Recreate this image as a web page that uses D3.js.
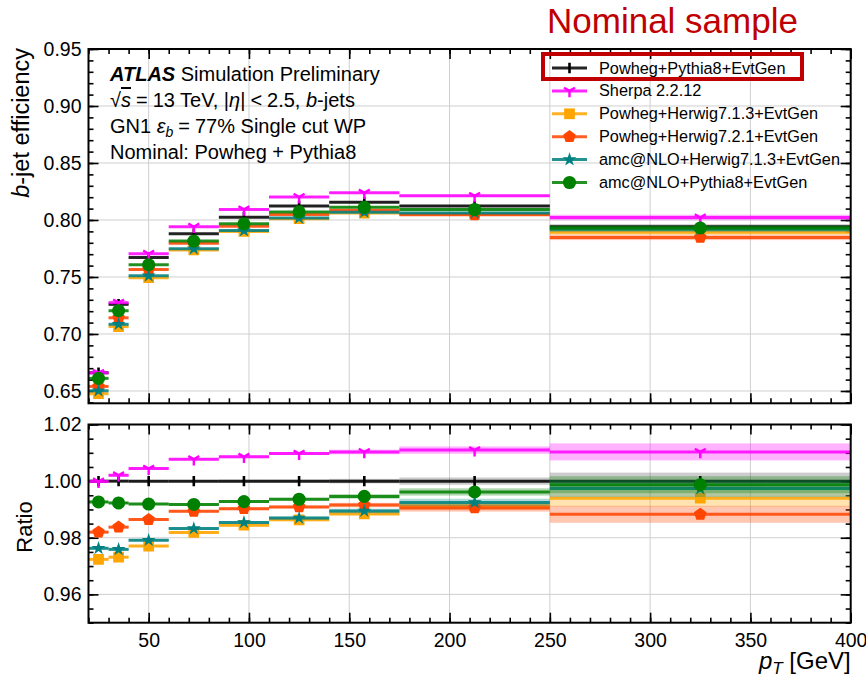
<!DOCTYPE html>
<html>
<head>
<meta charset="utf-8">
<script src="https://cdn.jsdelivr.net/npm/d3@7"></script>
<style>
  html, body { margin: 0; padding: 0; background: #fff; }
  svg { display: block; font-family: "Liberation Sans", Arial, sans-serif; }
</style>
</head>
<body>
<svg id="chart" width="866" height="681"></svg>
<script>
// pT binning (GeV)
const binEdges = [20, 30, 40, 60, 85, 110, 140, 175, 250, 400];

// b-jet efficiency per pT bin for each generator setup
const effPowhegPythia8   = [0.666, 0.726, 0.767, 0.788, 0.8024, 0.8123, 0.8155, 0.8123, 0.794];
const effSherpa          = [0.6659, 0.7275, 0.7704, 0.7941, 0.8093, 0.8202, 0.8239, 0.8212, 0.8022];
const effPowhegHerwig713 = [0.6476, 0.7065, 0.7494, 0.7737, 0.7899, 0.8012, 0.8061, 0.8052, 0.7892];
const effPowhegHerwig721 = [0.654, 0.7142, 0.7566, 0.7796, 0.7946, 0.8049, 0.8086, 0.8046, 0.7847];
const effAmcHerwig713    = [0.6502, 0.7085, 0.751, 0.7748, 0.7907, 0.8017, 0.8069, 0.8062, 0.7919];
const effAmcPythia8      = [0.6611, 0.7204, 0.7608, 0.7815, 0.7966, 0.8071, 0.8111, 0.8092, 0.793];

// relative statistical uncertainty per bin
const relUnc = [0.0004, 0.0004, 0.0004, 0.0004, 0.0005, 0.0005, 0.0008, 0.0013, 0.003];

const sampleLabels = [
  "Powheg+Pythia8+EvtGen",
  "Sherpa 2.2.12",
  "Powheg+Herwig7.1.3+EvtGen",
  "Powheg+Herwig7.2.1+EvtGen",
  "amc@NLO+Herwig7.1.3+EvtGen",
  "amc@NLO+Pythia8+EvtGen"
];
const sampleEff = [effPowhegPythia8, effSherpa, effPowhegHerwig713, effPowhegHerwig721, effAmcHerwig713, effAmcPythia8];

// axis ticks
const xMajorTicks = [50, 100, 150, 200, 250, 300, 350, 400];
const xMinorTicks = d3.range(20, 401, 10);
const effMajorTicks = [0.65, 0.70, 0.75, 0.80, 0.85, 0.90, 0.95];
const effMinorTicks = d3.range(64, 96, 1).map(v => v / 100);
const ratioMajorTicks = [0.96, 0.98, 1.00, 1.02];
const ratioMinorTicks = d3.range(950, 1021, 5).map(v => v / 1000);

// styling
const colors = ["#000000", "#ff00ff", "#ffa500", "#ff4500", "#008080", "#008000"];

// custom marker shapes
const symPentagon = {
  draw(ctx, size) {
    const r = Math.sqrt(size / 2.378);
    for (let k = 0; k < 5; k++) {
      const a = -Math.PI / 2 + k * 2 * Math.PI / 5;
      const px = r * Math.cos(a), py = r * Math.sin(a);
      if (k === 0) ctx.moveTo(px, py); else ctx.lineTo(px, py);
    }
    ctx.closePath();
  }
};
const symTriDown = {
  draw(ctx, size) {
    const r = Math.sqrt(size);
    ctx.moveTo(0, 0); ctx.lineTo(0, r);
    ctx.moveTo(0, 0); ctx.lineTo(-r * 0.866, -r * 0.5);
    ctx.moveTo(0, 0); ctx.lineTo(r * 0.866, -r * 0.5);
  }
};
const symVLine = {
  draw(ctx, size) {
    const h = Math.sqrt(size) / 2;
    ctx.moveTo(0, -h); ctx.lineTo(0, h);
  }
};
const markerSpec = [
  { type: symVLine, size: 110, stroke: true, width: 2.6 },
  { type: symTriDown, size: 40, stroke: true, width: 2.4 },
  { type: d3.symbolSquare, size: 115, stroke: false },
  { type: symPentagon, size: 105, stroke: false },
  { type: d3.symbolStar, size: 60, stroke: false },
  { type: d3.symbolCircle, size: 135, stroke: false }
];

const svg = d3.select("#chart");

const x = d3.scaleLinear().domain([20, 400]).range([88.5, 850.7]);
const yEff = d3.scaleLinear().domain([0.6392, 0.95]).range([403.3, 49]);
const yRatio = d3.scaleLinear().domain([0.95, 1.02]).range([622.7, 424.5]);

const bins = d3.range(binEdges.length - 1).map(i => ({ lo: binEdges[i], hi: binEdges[i + 1], c: (binEdges[i] + binEdges[i + 1]) / 2 }));

function drawPanel(y, yMajor, yMinor, fmt, showX) {
  const g = svg.append("g");
  const [x0, x1] = x.range();
  const [yb, yt] = y.range();

  // grid
  g.append("g").selectAll("line").data(xMajorTicks.filter(t => t < 400)).join("line")
    .attr("x1", d => x(d)).attr("x2", d => x(d)).attr("y1", yb).attr("y2", yt)
    .attr("stroke", "#cfcfcf").attr("stroke-width", 1);
  g.append("g").selectAll("line").data(yMajor.filter(t => y(t) > yt + 1 && y(t) < yb - 1)).join("line")
    .attr("x1", x0).attr("x2", x1).attr("y1", d => y(d)).attr("y2", d => y(d))
    .attr("stroke", "#cfcfcf").attr("stroke-width", 1);

  const axes = g.append("g").attr("class", "axes");
  const styleAxis = sel => {
    sel.select(".domain").remove();
    sel.selectAll(".tick line").attr("stroke", "#000").attr("stroke-width", 1.6);
    sel.selectAll(".tick text").attr("font-size", 19.5).attr("fill", "#000")
      .attr("font-family", "Liberation Sans, Arial, sans-serif");
  };
  // bottom
  axes.append("g").attr("transform", `translate(0,${yb})`)
    .call(d3.axisBottom(x).tickValues(xMajorTicks).tickSize(-10).tickPadding(10)
      .tickFormat(showX ? d3.format("d") : () => ""))
    .call(styleAxis);
  axes.append("g").attr("transform", `translate(0,${yb})`)
    .call(d3.axisBottom(x).tickValues(xMinorTicks).tickSize(-5).tickFormat(() => ""))
    .call(styleAxis);
  // top
  axes.append("g").attr("transform", `translate(0,${yt})`)
    .call(d3.axisTop(x).tickValues(xMajorTicks).tickSize(-10).tickFormat(() => ""))
    .call(styleAxis);
  axes.append("g").attr("transform", `translate(0,${yt})`)
    .call(d3.axisTop(x).tickValues(xMinorTicks).tickSize(-5).tickFormat(() => ""))
    .call(styleAxis);
  // left
  axes.append("g").attr("transform", `translate(${x0},0)`)
    .call(d3.axisLeft(y).tickValues(yMajor).tickSize(-10).tickPadding(7).tickFormat(fmt))
    .call(styleAxis);
  axes.append("g").attr("transform", `translate(${x0},0)`)
    .call(d3.axisLeft(y).tickValues(yMinor).tickSize(-5).tickFormat(() => ""))
    .call(styleAxis);
  // right
  axes.append("g").attr("transform", `translate(${x1},0)`)
    .call(d3.axisRight(y).tickValues(yMajor).tickSize(-10).tickFormat(() => ""))
    .call(styleAxis);
  axes.append("g").attr("transform", `translate(${x1},0)`)
    .call(d3.axisRight(y).tickValues(yMinor).tickSize(-5).tickFormat(() => ""))
    .call(styleAxis);

  return g;
}

function drawSeries(g, y, values, errs, s) {
  const sg = g.append("g");
  const col = colors[s];
  const data = bins.map((b, i) => ({ ...b, v: values[i], e: errs[i] }));
  sg.selectAll("rect.band").data(data).join("rect")
    .attr("class", "band")
    .attr("x", d => x(d.lo)).attr("width", d => x(d.hi) - x(d.lo))
    .attr("y", d => y(d.v + d.e)).attr("height", d => Math.max(0, y(d.v - d.e) - y(d.v + d.e)))
    .attr("fill", s === 0 ? "#555" : col).attr("opacity", 0.3);
  sg.selectAll("line.bin").data(data).join("line")
    .attr("class", "bin")
    .attr("x1", d => x(d.lo)).attr("x2", d => x(d.hi))
    .attr("y1", d => y(d.v)).attr("y2", d => y(d.v))
    .attr("stroke", col).attr("stroke-width", 3).attr("opacity", 0.85);
  const m = markerSpec[s];
  const sym = d3.symbol().type(m.type).size(m.size);
  sg.selectAll("path.mk").data(data).join("path")
    .attr("class", "mk")
    .attr("transform", d => `translate(${x(d.c)},${y(d.v)})`)
    .attr("d", sym)
    .attr("fill", m.stroke ? "none" : col)
    .attr("stroke", m.stroke ? col : "none")
    .attr("stroke-width", m.stroke ? m.width : 0);
}

// upper panel: efficiency
const gTop = drawPanel(yEff, effMajorTicks, effMinorTicks, d3.format(".2f"), false);
const clipTop = svg.append("clipPath").attr("id", "clipTop").append("rect")
  .attr("x", x.range()[0]).attr("y", yEff.range()[1])
  .attr("width", x.range()[1] - x.range()[0]).attr("height", yEff.range()[0] - yEff.range()[1]);
const dataTop = gTop.append("g").attr("clip-path", "url(#clipTop)");
sampleEff.forEach((eff, s) => {
  drawSeries(dataTop, yEff, eff, eff.map((v, i) => v * relUnc[i]), s);
});

// lower panel: ratio to nominal
const gBot = drawPanel(yRatio, ratioMajorTicks, ratioMinorTicks, d3.format(".2f"), true);
const clipBot = svg.append("clipPath").attr("id", "clipBot").append("rect")
  .attr("x", x.range()[0]).attr("y", yRatio.range()[1])
  .attr("width", x.range()[1] - x.range()[0]).attr("height", yRatio.range()[0] - yRatio.range()[1]);
const dataBot = gBot.append("g").attr("clip-path", "url(#clipBot)");
sampleEff.forEach((eff, s) => {
  const ratio = eff.map((v, i) => v / effPowhegPythia8[i]);
  drawSeries(dataBot, yRatio, ratio, ratio.map((v, i) => relUnc[i]), s);
});

// frames
[[yEff], [yRatio]].forEach(([y]) => {
  svg.append("rect")
    .attr("x", x.range()[0]).attr("y", y.range()[1])
    .attr("width", x.range()[1] - x.range()[0]).attr("height", y.range()[0] - y.range()[1])
    .attr("fill", "none").attr("stroke", "#000").attr("stroke-width", 2);
});

// axis titles
const yl = svg.append("text").attr("transform", "translate(29,48) rotate(-90)")
  .attr("text-anchor", "end").attr("font-size", 23.5);
yl.append("tspan").attr("font-style", "italic").text("b");
yl.append("tspan").text("-jet efficiency");

svg.append("text").attr("transform", "translate(32,527) rotate(-90)")
  .attr("text-anchor", "middle").attr("font-size", 22).text("Ratio");

const xl = svg.append("text").attr("x", x.range()[1]).attr("y", 669)
  .attr("text-anchor", "end").attr("font-size", 24);
xl.append("tspan").attr("font-style", "italic").text("p");
xl.append("tspan").attr("font-style", "italic").attr("font-size", 17).attr("dy", 5).text("T");
xl.append("tspan").attr("dy", -5).text(" [GeV]");

// ATLAS label block
const tx = 110, ty0 = 81, tdy = 26, tfs = 20;
const t1 = svg.append("text").attr("x", tx).attr("y", ty0).attr("font-size", tfs);
t1.append("tspan").attr("font-weight", "bold").attr("font-style", "italic").text("ATLAS");
t1.append("tspan").text(" Simulation Preliminary");

const t2 = svg.append("text").attr("x", tx).attr("y", ty0 + tdy).attr("font-size", tfs);
t2.append("tspan").text("√");
t2.append("tspan").attr("font-style", "italic").style("text-decoration", "overline").text("s");
t2.append("tspan").attr("dx", 5).text("=");
t2.append("tspan").attr("dx", 5).text("13 TeV, |");
t2.append("tspan").attr("font-style", "italic").text("η");
t2.append("tspan").text("|");
t2.append("tspan").attr("dx", 5).text("<");
t2.append("tspan").attr("dx", 5).text("2.5, ");
t2.append("tspan").attr("font-style", "italic").text("b");
t2.append("tspan").text("-jets");

const t3 = svg.append("text").attr("x", tx).attr("y", ty0 + 2 * tdy).attr("font-size", tfs);
t3.append("tspan").text("GN1 ");
t3.append("tspan").attr("font-style", "italic").text("ε");
t3.append("tspan").attr("font-style", "italic").attr("font-size", 14).attr("dy", 4).text("b");
t3.append("tspan").attr("dy", -4).attr("dx", 5).text("=");
t3.append("tspan").attr("dx", 5).text("77% Single cut WP");

svg.append("text").attr("x", tx).attr("y", ty0 + 3 * tdy).attr("font-size", tfs)
  .text("Nominal: Powheg + Pythia8");

// legend
const lg = svg.append("g");
const lgX0 = 552, lgX1 = 587, lgTextX = 599, lgY0 = 68, lgDy = 22.9;
sampleLabels.forEach((lab, s) => {
  const yy = lgY0 + s * lgDy;
  const col = colors[s];
  lg.append("line").attr("x1", lgX0).attr("x2", lgX1).attr("y1", yy).attr("y2", yy)
    .attr("stroke", col).attr("stroke-width", 3).attr("opacity", 0.85);
  const m = markerSpec[s];
  lg.append("path").attr("transform", `translate(${(lgX0 + lgX1) / 2},${yy})`)
    .attr("d", d3.symbol().type(m.type).size(m.size)())
    .attr("fill", m.stroke ? "none" : col)
    .attr("stroke", m.stroke ? col : "none")
    .attr("stroke-width", m.stroke ? m.width : 0);
  lg.append("text").attr("x", lgTextX).attr("y", yy + 5.5).attr("font-size", 16.3).text(lab);
});

// highlight of the nominal sample
svg.append("rect").attr("x", 543).attr("y", 54).attr("width", 259).attr("height", 25)
  .attr("fill", "none").attr("stroke", "#c00000").attr("stroke-width", 4);
svg.append("text").attr("x", 547).attr("y", 32.5).attr("font-size", 35)
  .attr("font-family", "Liberation Sans, Arial, sans-serif").attr("fill", "#c00000")
  .text("Nominal sample");
</script>
</body>
</html>
